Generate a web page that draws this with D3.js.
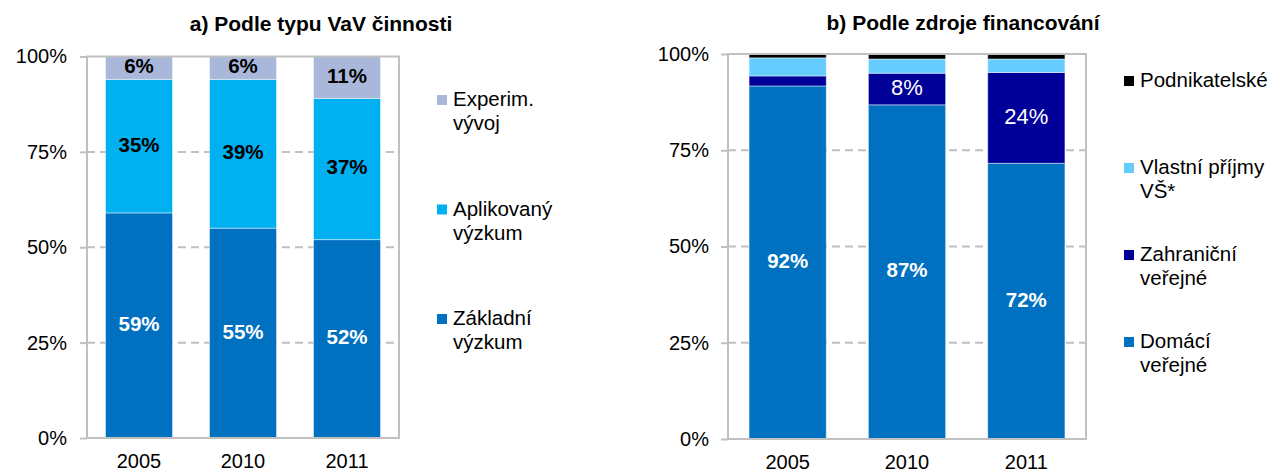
<!DOCTYPE html>
<html>
<head>
<meta charset="utf-8">
<script src="https://cdn.jsdelivr.net/npm/d3@7"></script>
<style>
  body { margin: 0; background: #fff; }
  svg text { font-family: "Liberation Sans", Arial, sans-serif; }
</style>
</head>
<body>
<svg id="chart" width="1274" height="472"></svg>
<script>
// data (percent shares)
const years = ["2005", "2010", "2011"];
const yTicks = [0, 25, 50, 75, 100];

// a) by type of R&D
const zakladni = [59, 55, 52];
const aplikovany = [35, 39, 37];
const experim = [6, 6, 11];

// b) by source of funding
const domaci = [91.7, 86.8, 71.6];
const zahranicni = [2.6, 8.2, 23.6];
const vlastni = [4.7, 3.7, 3.5];
const podnikatelske = [1.0, 1.3, 1.3];

const svg = d3.select("#chart");
const FONT = "Liberation Sans, Arial, sans-serif";

// draw one stacked panel
function drawPanel(p) {
    const g = svg.append("g");

    const x = d3.scaleBand()
        .domain(years)
        .range([p.left, p.right])
        .paddingInner(p.pad)
        .paddingOuter(p.pad / 2);

    const y = d3.scaleLinear()
        .domain([0, 100])
        .range([p.bottom, p.top]);

    // title
    g.append("text")
        .attr("x", p.titleX)
        .attr("y", p.titleY)
        .attr("text-anchor", "middle")
        .attr("dominant-baseline", "middle")
        .attr("font-size", 21)
        .attr("font-weight", "bold")
        .text(p.title);

    // dashed gridlines
    g.selectAll("line.grid")
        .data(yTicks.filter(t => t > 0 && t < 100))
        .join("line")
        .attr("x1", p.left).attr("x2", p.right)
        .attr("y1", d => y(d)).attr("y2", d => y(d))
        .attr("stroke", "#c0c0c0")
        .attr("stroke-width", 2)
        .attr("stroke-dasharray", "8,5");

    // stacked bars
    const table = years.map((yr, i) => {
        const row = { year: yr };
        p.series.forEach(s => row[s.key] = s.values[i]);
        return row;
    });
    const stacked = d3.stack().keys(p.series.map(s => s.key))(table);

    g.selectAll("g.layer")
        .data(stacked)
        .join("g")
        .attr("fill", (d, i) => p.series[i].color)
        .selectAll("rect")
        .data(d => d)
        .join("rect")
        .attr("x", d => x(d.data.year))
        .attr("y", d => y(d[1]))
        .attr("width", x.bandwidth())
        .attr("height", d => y(d[0]) - y(d[1]))
        .attr("stroke", "#fff")
        .attr("stroke-opacity", 0.45)
        .attr("stroke-width", 1);

    // labels inside bars
    stacked.forEach((layer, i) => {
        const s = p.series[i];
        if (!s.label) return;
        g.selectAll(null)
            .data(layer.filter(d => d[1] - d[0] >= 5))
            .join("text")
            .attr("x", d => x(d.data.year) + x.bandwidth() / 2)
            .attr("y", d => y((d[0] + d[1]) / 2))
            .attr("text-anchor", "middle")
            .attr("dominant-baseline", "middle")
            .attr("font-size", s.label.size)
            .attr("font-weight", s.label.weight)
            .attr("fill", s.label.color)
            .text(d => Math.round(d[1] - d[0]) + "%");
    });

    // plot border
    g.append("rect")
        .attr("x", p.left).attr("y", y(100))
        .attr("width", p.right - p.left)
        .attr("height", y(0) - y(100))
        .attr("fill", "none")
        .attr("stroke", "#c0c0c0")
        .attr("stroke-width", 2);

    // y axis
    const yAxis = g.append("g")
        .attr("transform", `translate(${p.left},0)`)
        .call(d3.axisLeft(y).tickValues(yTicks).tickFormat(d => d + "%").tickSize(7).tickPadding(p.tickPad));
    yAxis.select(".domain").remove();
    yAxis.selectAll("line").attr("stroke", "#c0c0c0").attr("stroke-width", 2);
    yAxis.selectAll("text").attr("font-size", 20).attr("fill", "#000").attr("font-family", FONT);

    // x axis
    const xAxis = g.append("g")
        .attr("transform", `translate(0,${p.bottom})`)
        .call(d3.axisBottom(x).tickSize(0).tickPadding(16));
    xAxis.select(".domain").remove();
    xAxis.selectAll("text").attr("font-size", 20).attr("fill", "#000").attr("font-family", FONT);

    // legend, top series first
    const legend = p.series.slice().reverse();
    legend.forEach((s, i) => {
        const ly = p.legendTop + i * p.legendStep;
        g.append("rect")
            .attr("x", p.legendX).attr("y", ly - 6)
            .attr("width", 10).attr("height", 10)
            .attr("fill", s.color);
        const t = g.append("text")
            .attr("x", p.legendX + 16)
            .attr("y", ly)
            .attr("font-size", 20.5)
            .attr("dominant-baseline", "middle");
        s.name.forEach((line, j) => {
            t.append("tspan").attr("x", p.legendX + 16).attr("dy", j === 0 ? 0 : 24).text(line);
        });
    });
}

drawPanel({
    title: "a) Podle typu VaV činnosti",
    titleX: 321, titleY: 25,
    left: 87, right: 399, top: 56.5, bottom: 438,
    pad: 0.356,
    tickPad: 13,
    legendX: 437, legendTop: 101, legendStep: 109.5,
    series: [
        { key: "zakladni", name: ["Základní", "výzkum"], values: zakladni, color: "#0070c0",
          label: { color: "#fff", weight: "bold", size: 20.5 } },
        { key: "aplikovany", name: ["Aplikovaný", "výzkum"], values: aplikovany, color: "#00b0f0",
          label: { color: "#000", weight: "bold", size: 20.5 } },
        { key: "experim", name: ["Experim.", "vývoj"], values: experim, color: "#a9b8da",
          label: { color: "#000", weight: "bold", size: 20.5 } }
    ]
});

drawPanel({
    title: "b) Podle zdroje financování",
    titleX: 963, titleY: 24,
    left: 728, right: 1086, top: 54, bottom: 439,
    pad: 0.353,
    tickPad: 12,
    legendX: 1124, legendTop: 82, legendStep: 87,
    series: [
        { key: "domaci", name: ["Domácí", "veřejné"], values: domaci, color: "#0070c0",
          label: { color: "#fff", weight: "bold", size: 20.5 } },
        { key: "zahranicni", name: ["Zahraniční", "veřejné"], values: zahranicni, color: "#000099",
          label: { color: "#fff", weight: "normal", size: 22 } },
        { key: "vlastni", name: ["Vlastní příjmy", "VŠ*"], values: vlastni, color: "#66ccff" },
        { key: "podnikatelske", name: ["Podnikatelské"], values: podnikatelske, color: "#000000" }
    ]
});
</script>
</body>
</html>
